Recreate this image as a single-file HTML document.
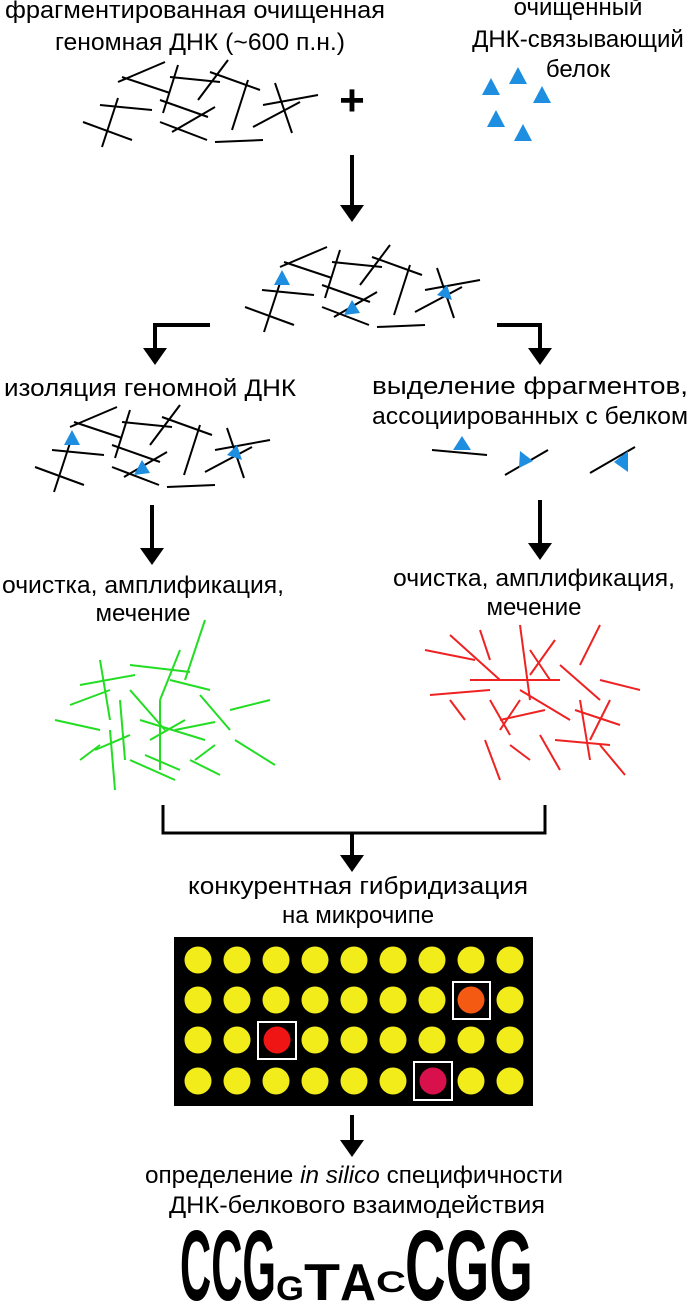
<!DOCTYPE html>
<html><head><meta charset="utf-8"><style>
html,body{margin:0;padding:0;background:#fff;}
svg{display:block}
text{font-family:"Liberation Sans",sans-serif;font-size:24px;fill:#000;}
</style></head><body>
<svg width="693" height="1308" viewBox="0 0 693 1308" xmlns="http://www.w3.org/2000/svg">
<defs>
<g id="dna" stroke="#000" stroke-width="2" fill="none">
<line x1="118" y1="82" x2="165" y2="62"/><line x1="122" y1="77" x2="170" y2="93"/>
<line x1="178" y1="65" x2="163" y2="113"/><line x1="170" y1="77" x2="220" y2="82"/>
<line x1="228" y1="60" x2="198" y2="100"/><line x1="210" y1="72" x2="260" y2="90"/>
<line x1="248" y1="80" x2="232" y2="130"/><line x1="100" y1="105" x2="152" y2="110"/>
<line x1="118" y1="98" x2="102" y2="147"/><line x1="83" y1="122" x2="132" y2="140"/>
<line x1="160" y1="100" x2="208" y2="117"/><line x1="215" y1="107" x2="172" y2="132"/>
<line x1="160" y1="122" x2="207" y2="140"/><line x1="215" y1="142" x2="263" y2="140"/>
<line x1="275" y1="83" x2="292" y2="133"/><line x1="263" y1="105" x2="318" y2="95"/>
<line x1="253" y1="127" x2="300" y2="102"/>
</g>
<g id="tris" fill="#1e8ee0">
<polygon points="120,85 112,100 128,100"/><polygon points="190,115 182,130 198,128"/><polygon points="285,100 275,110 290,115"/>
</g>
<g id="row" fill="#f2ec1a"><circle cx="198" cy="0" r="13.5"/><circle cx="237" cy="0" r="13.5"/><circle cx="276" cy="0" r="13.5"/><circle cx="315" cy="0" r="13.5"/><circle cx="354" cy="0" r="13.5"/><circle cx="393" cy="0" r="13.5"/><circle cx="432" cy="0" r="13.5"/><circle cx="471" cy="0" r="13.5"/><circle cx="510" cy="0" r="13.5"/></g>
</defs>
<text x="195" y="18" text-anchor="middle" textLength="380" lengthAdjust="spacingAndGlyphs">фрагментированная очищенная</text>
<text x="200" y="50" text-anchor="middle" textLength="290" lengthAdjust="spacingAndGlyphs">геномная ДНК (~600 п.н.)</text>
<text x="578" y="15" text-anchor="middle">очищенный</text>
<text x="578" y="47" text-anchor="middle">ДНК-связывающий</text>
<text x="578" y="77" text-anchor="middle">белок</text>
<use href="#dna"/>
<text x="352" y="115" text-anchor="middle" style="font-size:44px;font-weight:bold">+</text>
<g fill="#1e8ee0">
<polygon points="491,78 482,95 500,95"/><polygon points="518,67 509,84 527,84"/><polygon points="542,86 533,103 551,103"/>
<polygon points="496,110 487,127 505,127"/><polygon points="523,124 514,141 532,141"/>
</g>
<g stroke="#000" stroke-width="4" fill="none">
<line x1="352" y1="155" x2="352" y2="208"/>
<polyline points="210,325 155,325 155,350"/>
<polyline points="497,325 540,325 540,350"/>
<line x1="152" y1="505" x2="152" y2="550"/>
<line x1="540" y1="500" x2="540" y2="545"/>
<polyline points="163,805 163,833 545,833 545,805" stroke-width="3"/>
<line x1="352" y1="833" x2="352" y2="857"/>
<line x1="352" y1="1115" x2="352" y2="1142"/>
</g>
<g fill="#000">
<polygon points="340,205 364,205 352,222"/>
<polygon points="143,348 167,348 155,365"/>
<polygon points="528,348 552,348 540,365"/>
<polygon points="140,548 164,548 152,565"/>
<polygon points="528,543 552,543 540,560"/>
<polygon points="340,855 364,855 352,872"/>
<polygon points="340,1140 364,1140 352,1157"/>
</g>
<g transform="translate(162,185)"><use href="#dna"/><use href="#tris"/></g>
<text x="150" y="396" text-anchor="middle" textLength="292" lengthAdjust="spacingAndGlyphs">изоляция геномной ДНК</text>
<text x="530" y="394" text-anchor="middle" textLength="316" lengthAdjust="spacingAndGlyphs">выделение фрагментов,</text>
<text x="530" y="424" text-anchor="middle" textLength="316" lengthAdjust="spacingAndGlyphs">ассоциированных с белком</text>
<g transform="translate(-48,345)"><use href="#dna"/><use href="#tris"/></g>
<g stroke="#000" stroke-width="2"><line x1="432" y1="450" x2="487" y2="455"/><line x1="505" y1="475" x2="548" y2="450"/><line x1="590" y1="473" x2="635" y2="447"/></g>
<g fill="#1e8ee0"><polygon points="462,436 453,450 471,450"/><polygon points="520,451 519,468 533,461"/><polygon points="628,451 614,462 628,472"/></g>
<text x="143" y="593" text-anchor="middle" textLength="282" lengthAdjust="spacingAndGlyphs">очистка, амплификация,</text>
<text x="143" y="621" text-anchor="middle">мечение</text>
<text x="534" y="586" text-anchor="middle" textLength="282" lengthAdjust="spacingAndGlyphs">очистка, амплификация,</text>
<text x="534" y="615" text-anchor="middle">мечение</text>
<g stroke="#22dd22" stroke-width="2">
<line x1="180" y1="650" x2="160" y2="700"/><line x1="205" y1="620" x2="185" y2="680"/><line x1="130" y1="665" x2="190" y2="672"/>
<line x1="80" y1="685" x2="135" y2="675"/><line x1="70" y1="705" x2="110" y2="690"/><line x1="100" y1="660" x2="110" y2="720"/>
<line x1="55" y1="720" x2="100" y2="730"/><line x1="130" y1="690" x2="165" y2="730"/><line x1="200" y1="695" x2="230" y2="730"/>
<line x1="230" y1="710" x2="270" y2="700"/><line x1="140" y1="720" x2="205" y2="740"/><line x1="150" y1="740" x2="185" y2="720"/>
<line x1="160" y1="700" x2="160" y2="770"/><line x1="235" y1="740" x2="275" y2="765"/><line x1="95" y1="750" x2="130" y2="735"/>
<line x1="110" y1="730" x2="115" y2="790"/><line x1="130" y1="760" x2="175" y2="780"/><line x1="190" y1="760" x2="220" y2="775"/>
<line x1="120" y1="700" x2="125" y2="760"/><line x1="170" y1="680" x2="210" y2="690"/><line x1="145" y1="755" x2="180" y2="770"/>
<line x1="215" y1="745" x2="195" y2="760"/><line x1="80" y1="760" x2="100" y2="745"/><line x1="175" y1="730" x2="215" y2="722"/>
</g>
<g stroke="#ee2222" stroke-width="2">
<line x1="450" y1="635" x2="500" y2="680"/><line x1="480" y1="630" x2="490" y2="660"/><line x1="520" y1="625" x2="530" y2="700"/>
<line x1="555" y1="640" x2="530" y2="675"/><line x1="600" y1="625" x2="580" y2="665"/><line x1="425" y1="650" x2="475" y2="660"/>
<line x1="430" y1="695" x2="490" y2="690"/><line x1="470" y1="680" x2="560" y2="680"/><line x1="490" y1="700" x2="510" y2="735"/>
<line x1="520" y1="690" x2="570" y2="720"/><line x1="560" y1="665" x2="600" y2="700"/><line x1="600" y1="680" x2="640" y2="690"/>
<line x1="575" y1="710" x2="620" y2="725"/><line x1="610" y1="700" x2="590" y2="740"/><line x1="500" y1="720" x2="545" y2="710"/>
<line x1="485" y1="740" x2="500" y2="780"/><line x1="510" y1="745" x2="530" y2="760"/><line x1="540" y1="735" x2="560" y2="770"/>
<line x1="555" y1="740" x2="610" y2="745"/><line x1="600" y1="745" x2="625" y2="775"/><line x1="580" y1="700" x2="590" y2="760"/>
<line x1="450" y1="700" x2="465" y2="720"/><line x1="530" y1="650" x2="550" y2="680"/><line x1="520" y1="700" x2="500" y2="730"/>
</g>
<text x="358" y="894" text-anchor="middle" textLength="340" lengthAdjust="spacingAndGlyphs">конкурентная гибридизация</text>
<text x="358" y="923" text-anchor="middle">на микрочипе</text>
<rect x="174" y="937" width="359" height="169" fill="#000"/>
<use href="#row" transform="translate(0,960)"/><use href="#row" transform="translate(0,1000)"/><use href="#row" transform="translate(0,1040)"/><use href="#row" transform="translate(0,1081)"/>
<g stroke="#fff" stroke-width="2" fill="#000">
<rect x="453" y="982" width="37" height="37"/><rect x="258" y="1022" width="38" height="37"/><rect x="414" y="1062" width="38" height="38"/>
</g>
<circle cx="471" cy="1000" r="13.5" fill="#f45a12"/>
<circle cx="277" cy="1040" r="13.5" fill="#f01515"/>
<circle cx="433" cy="1081" r="13.5" fill="#d8104c"/>
<text x="354" y="1183" text-anchor="middle" textLength="418" lengthAdjust="spacingAndGlyphs">определение <tspan font-style="italic">in silico</tspan> специфичности</text>
<text x="357" y="1213" text-anchor="middle" textLength="376" lengthAdjust="spacingAndGlyphs">ДНК-белкового взаимодействия</text>
<text x="180" y="1300" style="font-size:100px;font-weight:bold" textLength="96" lengthAdjust="spacingAndGlyphs">CCG</text>
<text x="276" y="1300" style="font-size:34px;font-weight:bold" textLength="28" lengthAdjust="spacingAndGlyphs">G</text>
<text x="304" y="1300" style="font-size:52px;font-weight:bold" textLength="36" lengthAdjust="spacingAndGlyphs">T</text>
<text x="340" y="1300" style="font-size:52px;font-weight:bold" textLength="36" lengthAdjust="spacingAndGlyphs">A</text>
<text x="376" y="1292" style="font-size:30px;font-weight:bold" textLength="30" lengthAdjust="spacingAndGlyphs">C</text>
<text x="405" y="1300" style="font-size:100px;font-weight:bold" textLength="128" lengthAdjust="spacingAndGlyphs">CGG</text>
</svg>
</body></html>
